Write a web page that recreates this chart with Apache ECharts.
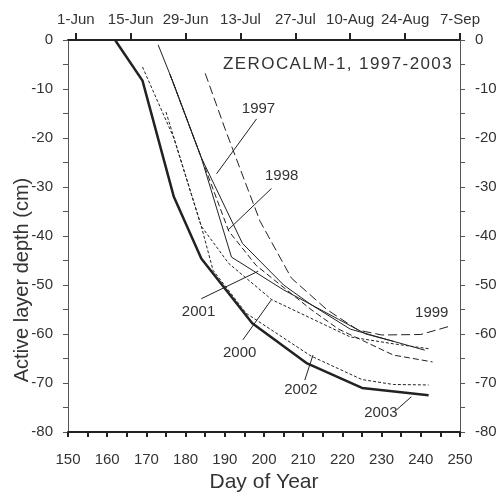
<!DOCTYPE html>
<html>
<head>
<meta charset="utf-8">
<script src="https://cdn.jsdelivr.net/npm/echarts@6/dist/echarts.min.js"></script>
<style>
  html, body { margin: 0; padding: 0; background: #fff; }
  #chart { width: 496px; height: 493px; }
</style>
</head>
<body>
<div id="chart"></div>
<script>
// [day of year, depth cm]
const y1997 = [[173, -1], [177, -9], [184, -24], [194.5, -41.5], [205, -50], [212, -54], [222, -59], [241, -63.3]]
const y1998 = [[176, -7], [184, -24], [191, -39], [198, -46], [212, -55], [219, -59], [233, -64.3], [243, -65.7]]
const y1999 = [[185, -6.8], [190, -18], [195, -28.6], [199, -37], [207, -48.6], [216, -55], [224, -59.2], [230, -60.2], [240, -60.1], [247, -58.5]]
const y2000 = [[175, -14.7], [178, -22.5], [184, -38], [191, -45.6], [202, -53], [222, -60.6], [233, -62], [242, -63]]
const y2001 = [[176, -7], [184, -24], [191.7, -44.3], [205, -51], [219, -57], [226, -60], [233, -61.5]]
const y2002 = [[169, -5.5], [177, -20], [184, -38], [187, -47], [195.5, -55.8], [212, -64.5], [225, -69.3], [233, -70.3], [242, -70.4]]
const y2003 = [[162, 0], [169, -8.3], [177, -32], [184, -44.6], [197, -57.8], [211, -66], [225, -71], [242, -72.5]]

const dateTicks = [152, 166, 180, 194, 208, 222, 236, 250]
const dateNames = ['1-Jun', '15-Jun', '29-Jun', '13-Jul', '27-Jul', '10-Aug', '24-Aug', '7-Sep']

// year labels: [text, label pos, leader from, leader to] in data units
const yearNotes = [
  ['1997', [198.6, -14.0], [198.1, -16.1], [187.9, -27.3]],
  ['1998', [204.5, -27.8], [201.9, -30.3], [190.8, -38.8]],
  ['2001', [183.3, -55.5], [184.0, -52.8], [198.5, -47.2]],
  ['2000', [193.8, -63.9], [194.6, -61.2], [201.9, -53.0]],
  ['2002', [209.4, -71.4], [210.4, -69.4], [212.5, -64.3]],
  ['2003', [229.8, -76.1], [233.8, -75.5], [237.6, -72.8]],
  ['1999', [242.8, -55.7], null, null]
]

const INK = '#222'
const TXT = '#333'
const FONT = 'Liberation Sans, Arial, sans-serif'

const mkLine = (name, data, width, dash) => ({
  name,
  type: 'line',
  data,
  symbol: 'none',
  xAxisIndex: 0,
  yAxisIndex: 0,
  lineStyle: { color: INK, width, type: dash },
  animation: false,
  z: 3
})

const yAxisBase = {
  type: 'value',
  min: -80,
  max: 0,
  interval: 10,
  axisLine: { show: true, lineStyle: { color: '#555', width: 1 } },
  axisTick: { show: true, length: 5, lineStyle: { color: '#555' } },
  minorTick: { show: true, splitNumber: 2, length: 5, lineStyle: { color: '#555' } },
  splitLine: { show: false },
  axisLabel: { color: TXT, fontSize: 15, fontFamily: FONT, margin: 15 }
}

const dom = document.getElementById('chart')
const myChart = echarts.init(dom, null, { renderer: 'canvas' })

myChart.setOption({
  animation: false,
  backgroundColor: '#fff',
  grid: { left: 68, right: 36, top: 40, bottom: 61, containLabel: false, outerBoundsMode: 'none' },
  xAxis: [{
    type: 'value',
    position: 'bottom',
    min: 150,
    max: 250,
    interval: 10,
    name: 'Day of Year',
    nameLocation: 'middle',
    nameGap: 36,
    nameTextStyle: { color: TXT, fontSize: 21, fontFamily: FONT },
    axisLine: { show: true, onZero: false, lineStyle: { color: INK, width: 2 } },
    axisTick: { show: true, length: 5, lineStyle: { color: INK, width: 2 } },
    minorTick: { show: true, splitNumber: 2, length: 5, lineStyle: { color: INK, width: 2 } },
    splitLine: { show: false },
    axisLabel: { color: TXT, fontSize: 15, fontFamily: FONT, margin: 20 }
  }, {
    type: 'value',
    position: 'top',
    min: 150,
    max: 250,
    axisLine: { show: true, onZero: false, lineStyle: { color: INK, width: 2 } },
    axisTick: { show: true, length: 7, customValues: dateTicks, lineStyle: { color: INK, width: 2 } },
    splitLine: { show: false },
    axisLabel: {
      color: TXT, fontSize: 15, fontFamily: FONT, margin: 13,
      customValues: dateTicks,
      formatter: (v) => dateNames[dateTicks.indexOf(Math.round(v))] || ''
    }
  }],
  yAxis: [
    Object.assign({}, yAxisBase, { position: 'left' }),
    Object.assign({}, yAxisBase, { position: 'right' })
  ],
  series: [
    mkLine('1997', y1997, 1, 'solid'),
    mkLine('1998', y1998, 1, [6, 3]),
    mkLine('1999', y1999, 1, [9, 4]),
    mkLine('2000', y2000, 1, [3, 2]),
    mkLine('2001', y2001, 1, 'solid'),
    mkLine('2002', y2002, 1, [3, 2]),
    mkLine('2003', y2003, 2.5, 'solid')
  ]
})

const toPx = (p) => myChart.convertToPixel({ xAxisIndex: 0, yAxisIndex: 0 }, p)

const graphics = [{
  type: 'text',
  left: 223,
  top: 56,
  style: {
    text: 'Z\u200AE\u200AR\u200AO\u200AC\u200AA\u200AL\u200AM\u200A-\u200A1\u200A,\u200A \u200A1\u200A9\u200A9\u200A7\u200A-\u200A2\u200A0\u200A0\u200A3',
    fill: TXT,
    font: '17px ' + FONT
  }
}, {
  type: 'text',
  x: 22,
  y: 280,
  rotation: Math.PI / 2,
  style: {
    text: 'Active layer depth (cm)',
    fill: TXT,
    font: '20px ' + FONT,
    align: 'center',
    verticalAlign: 'middle'
  }
}]

yearNotes.forEach(([txt, at, from, to]) => {
  const c = toPx(at)
  graphics.push({
    type: 'text',
    x: c[0],
    y: c[1],
    style: { text: txt, fill: TXT, font: '15px ' + FONT, align: 'center', verticalAlign: 'middle' },
    z: 10
  })
  if (from) {
    const a = toPx(from)
    const b = toPx(to)
    graphics.push({
      type: 'line',
      shape: { x1: a[0], y1: a[1], x2: b[0], y2: b[1] },
      style: { stroke: INK, lineWidth: 1 },
      z: 10
    })
  }
})

myChart.setOption({ graphic: graphics })
</script>
</body>
</html>
